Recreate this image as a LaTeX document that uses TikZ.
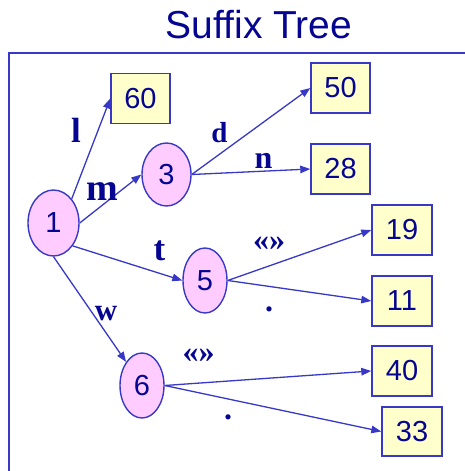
\documentclass[tikz,border=0pt]{standalone}
\usepackage{fontspec}
\setmainfont{Liberation Serif}
\newfontfamily\arialf{Liberation Sans}
\usetikzlibrary{shapes.geometric,arrows.meta}
\definecolor{txtblue}{RGB}{5,5,145}
\definecolor{lineblue}{RGB}{56,56,200}
\definecolor{pinkfill}{RGB}{255,204,255}
\definecolor{yellowfill}{RGB}{255,255,204}
\tikzset{
  inode/.style={ellipse, draw=lineblue, fill=pinkfill, line width=1.4pt, inner sep=0pt,
    font=\arialf\fontsize{29}{29}\selectfont, text=txtblue},
  leafbox/.style={rectangle, draw=lineblue, fill=yellowfill, line width=1.4pt, inner sep=0pt,
    minimum width=59pt, minimum height=50pt, font=\arialf\fontsize{29}{29}\selectfont, text=txtblue},
  edge/.style={draw=lineblue, line width=1.3pt, -{Triangle[length=10pt,width=7.5pt]}},
  elabel/.style={inner sep=0pt, text=txtblue, font=\bfseries\fontsize{#1}{#1}\selectfont},
  elabel/.default=32
}
\begin{document}
\begin{tikzpicture}[x=1pt,y=-1pt]
\useasboundingbox (0,0) rectangle (465,471);
% frame
\draw[lineblue, line width=1.4pt] (466,53) -- (9,53) -- (9,472);
% title
\node[text=txtblue, font=\arialf\fontsize{39}{39}\selectfont, inner sep=0pt] (title) at (259,25) {Suffix Tree};
% internal nodes
\node[inode, minimum width=51pt, minimum height=66pt] (n1) at (53.5,223) {1};
\node[inode, minimum width=49pt, minimum height=63pt] (n3) at (166.5,174.5) {3};
\node[inode, minimum width=44pt, minimum height=65pt] (n5) at (205,280.5) {5};
\node[inode, minimum width=44pt, minimum height=65pt] (n6) at (142,385.5) {6};
% leaves
\node[leafbox] (b60) at (140.5,98.5) {60};
\node[leafbox] (b50) at (340.5,88) {50};
\node[leafbox] (b28) at (340.5,169) {28};
\node[leafbox, minimum width=60pt] (b19) at (402,230) {19};
\node[leafbox, minimum width=60pt] (b11) at (402,301) {11};
\node[leafbox, minimum width=60pt] (b40) at (402,371) {40};
\node[leafbox, minimum width=60pt, minimum height=49pt] (b33) at (412,431.5) {33};
% edges
\draw[edge] (n1.53) -- (b60.west);
\draw[edge] (n1.east) -- (n3.west);
\draw[edge] (n3.east) -- (b50.west);
\draw[edge] (n3.east) -- (b28.west);
\draw[edge] (n1.-50) -- (n5.west);
\draw[edge] (n1.south) -- (n6.124);
\draw[edge] (n5.east) -- (b19.west);
\draw[edge] (n5.east) -- (b11.west);
\draw[edge] (n6.east) -- (b40.west);
\draw[edge] (n6.east) -- (b33.west);
% edge labels
\node[elabel=35] (ll) at (76,130) {l};
\node[elabel=29] (ld) at (219.5,133) {d};
\node[elabel=38] (lm) at (102,192) {m};
\node[elabel=32] (ln) at (263.5,160.5) {n};
\node[elabel=35] (lt) at (159.5,251) {t};
\node[elabel=31] (lw) at (106,314) {w};
\node[elabel=32] (lq1) at (269,244) {«»};
\node[elabel=32] (lq2) at (198.5,356) {«»};
\node[elabel=32] (ld1) at (269,309) {.};
\node[elabel=32] (ld2) at (228,417) {.};
\end{tikzpicture}
\end{document}
